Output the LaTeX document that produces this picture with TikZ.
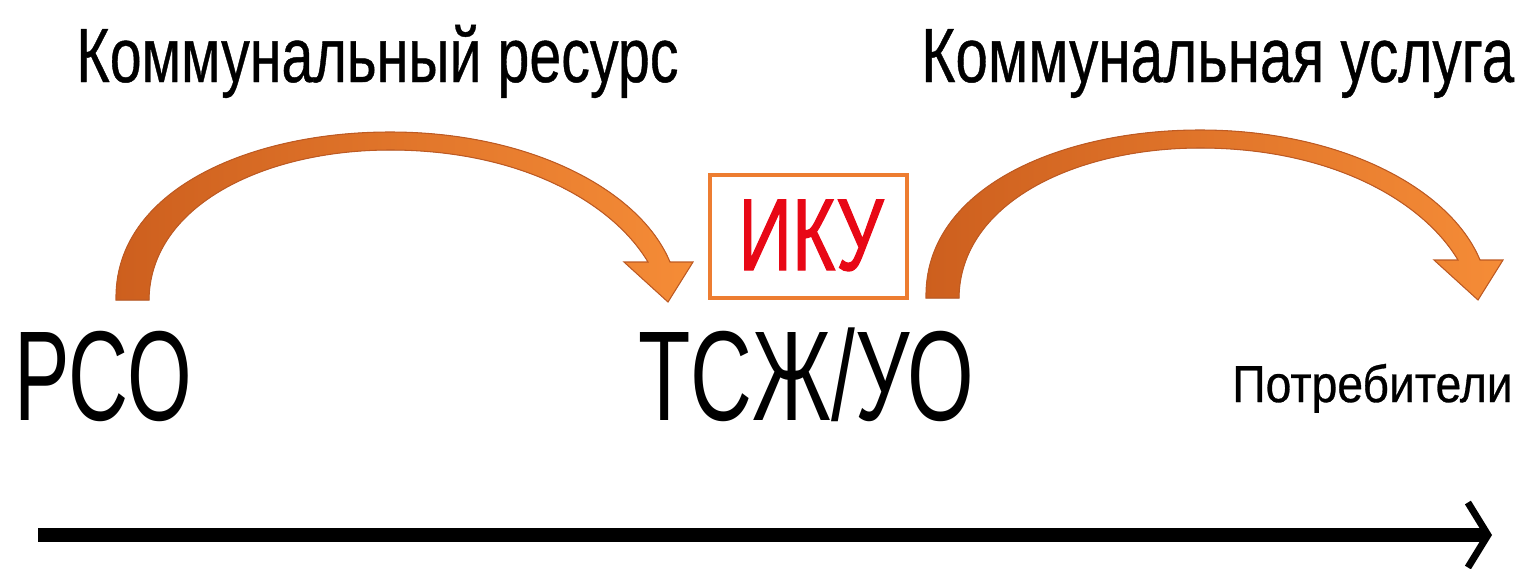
\documentclass[tikz,border=0pt]{standalone}
\usepackage{fontspec}
\usepackage{graphicx}
\setmainfont{Liberation Sans}
\newfontfamily\heavyfont[FakeBold=1.4]{Liberation Sans}
\newfontfamily\semifont[FakeBold=0.6]{Liberation Sans}
\usetikzlibrary{positioning}
\usetikzlibrary{arrows.meta}

\definecolor{arrowdark}{RGB}{205,95,30}
\definecolor{arrowlight}{RGB}{245,140,55}
\definecolor{arrowedge}{RGB}{190,90,35}
\definecolor{ikured}{RGB}{232,8,22}
\definecolor{ikuframe}{RGB}{237,125,49}

\newcommand{\narrow}[2]{\scalebox{#1}[1]{#2}}

\tikzset{
  caption/.style={inner sep=0pt, anchor=base west, font=\semifont\fontsize{43.8pt}{50pt}\selectfont},
  party/.style={inner sep=0pt, anchor=base west, font=\fontsize{72.8pt}{80pt}\selectfont},
  bend arrow/.style={left color=arrowdark, right color=arrowlight, draw=arrowedge, line width=0.6pt},
}

\begin{document}
\begin{tikzpicture}[x=0.02cm,y=-0.02cm]
 \useasboundingbox (0,0) rectangle (1524,568);
 % labels
 \node[caption] (res) at (76,82) {\narrow{0.745}{Коммунальный ресурс}};
 \node[caption] (usl) at (921,82) {\narrow{0.76}{Коммунальная услуга}};
 \node[party] (rso) at (14,420) {\narrow{0.65}{РСО}};
 \node[party] (tsg) at (638,420) {\narrow{0.67}{ТСЖ/УО}};
 \node[inner sep=0pt, anchor=base west, font=\semifont\fontsize{29.6pt}{34pt}\selectfont] (potr) at (1232,402) {\narrow{0.89}{Потребители}};
 % IKU box
 \draw[ikuframe, line width=2.2pt] (710,175) rectangle (907,298);
 \node[inner sep=0pt, anchor=base, text=ikured, font=\heavyfont\fontsize{58pt}{64pt}\selectfont] (iku) at (811,270) {\narrow{0.73}{ИКУ}};
 % curved arrows
 \foreach \dx/\dy in {0/0, 810/-2} {
 \begin{scope}[shift={(\dx,\dy)}]
  \filldraw[bend arrow] (116,300) .. controls (114,190) and (250,132) .. (390,132)
     .. controls (530,132) and (640,190) .. (670,262) -- (693,262) -- (668,302) -- (624,262) -- (648,262)
     .. controls (612,202) and (520,150) .. (390,150)
     .. controls (265,150) and (150,205) .. (149,300) -- cycle;
 \end{scope}
 }
 % time axis
 \coordinate (axstart) at (38,535);
 \coordinate (axend) at (1492,535);
 \draw[line width=0.28cm, -{Straight Barb[length=0.4cm, width=1.3cm, line width=0.14cm]}] (axstart) -- (axend);
\end{tikzpicture}
\end{document}
